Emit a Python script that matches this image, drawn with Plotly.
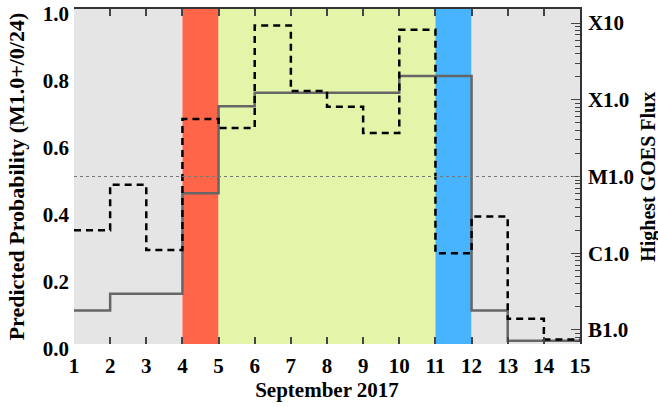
import plotly.graph_objects as go

# ---- data ----
day_edges = list(range(1, 16))                      # 1 .. 15
prob = [0.10, 0.15, 0.15, 0.45, 0.71, 0.75, 0.75, 0.75, 0.75, 0.80, 0.80, 0.10, 0.01, 0.01]
flux = [2.0e-6, 7.8e-6, 1.1e-6, 5.6e-5, 4.3e-5, 9.3e-4, 1.3e-4, 8.1e-5, 3.7e-5, 8.2e-4,
        1.0e-6, 3.0e-6, 1.4e-7, 0.75e-7]
region_start = [1, 4, 5, 11, 12]
region_end = [4, 5, 11, 12, 15]
region_color = ["#e5e5e5", "#ff6548", "#e3f5a9", "#48b4ff", "#e5e5e5"]
threshold = 0.5
prob_ticks = [0, 0.2, 0.4, 0.6, 0.8, 1.0]
prob_labels = ["0.0", "0.2", "0.4", "0.6", "0.8", "1.0"]
flux_ticks = [1e-7, 1e-6, 1e-5, 1e-4, 1e-3]
flux_labels = ["B1.0", "C1.0", "M1.0", "X1.0", "X10"]
x_ticks = list(range(1, 16))

minor_vals = [m * d for d in [1e-8, 1e-7, 1e-6, 1e-5, 1e-4, 1e-3] for m in range(2, 10)]

FONT = "Liberation Serif"
TF = dict(family=FONT, size=21, color="black", weight="bold")
yr2 = [-7.183, -2.817]

fig = go.Figure()

for s, e, c in zip(region_start, region_end, region_color):
    fig.add_vrect(x0=s, x1=e, fillcolor=c, line_width=0, layer="below", opacity=1)

fig.add_hline(y=threshold, line=dict(color="#777777", width=1, dash="dot"), layer="above")

fig.add_trace(go.Scatter(x=day_edges, y=prob + [prob[-1]], mode="lines",
                         line=dict(shape="hv", color="#666666", width=2.5),
                         showlegend=False, hoverinfo="skip"))
fig.add_trace(go.Scatter(x=day_edges, y=flux + [flux[-1]], mode="lines", yaxis="y2",
                         line=dict(shape="hv", color="black", width=2.5, dash="7px,5px"),
                         showlegend=False, hoverinfo="skip"))
# helper traces for minor-tick axis and top axis
fig.add_trace(go.Scatter(x=[day_edges[0]], y=[flux[0]], yaxis="y3", mode="markers",
                         marker=dict(opacity=0), showlegend=False, hoverinfo="skip"))
fig.add_trace(go.Scatter(x=[day_edges[0]], y=[prob[0]], xaxis="x2", mode="markers",
                         marker=dict(opacity=0), showlegend=False, hoverinfo="skip"))

fig.add_annotation(text="<b>Highest GOES Flux</b>", xref="paper", yref="paper", x=1.135, y=0.5,
                   xanchor="center", yanchor="middle", textangle=-90, showarrow=False,
                   font=dict(family=FONT, size=20, color="black"))

fig.update_layout(
    width=658, height=407,
    margin=dict(l=74, r=78, t=9, b=63, autoexpand=False),
    paper_bgcolor="white", plot_bgcolor="white",
    font=dict(family=FONT, size=18, color="black"),
    xaxis=dict(range=[1, 15], tickvals=x_ticks, ticks="inside", ticklen=7, tickwidth=1.5,
               tickcolor="#444444", showgrid=False, zeroline=False, showline=False,
               tickfont=TF, ticklabelstandoff=7, automargin=False,
               title=dict(text="<b>September 2017</b>", font=dict(family=FONT, size=21), standoff=4)),
    xaxis2=dict(range=[1, 15], overlaying="x", side="top", tickvals=x_ticks, ticks="inside",
                ticklen=7, tickwidth=1.5, tickcolor="#444444", showticklabels=False, automargin=False,
                showgrid=False, zeroline=False, showline=True, linecolor="#333333", linewidth=1.5),
    yaxis=dict(range=[0, 1], tickvals=prob_ticks, ticktext=prob_labels, ticklabeloverflow="allow",
               ticks="", showgrid=False, zeroline=False, showline=False, automargin=False,
               tickfont=TF, ticklabelstandoff=4, ticklabelshift=5,
               title=dict(text="<b>Predicted Probability (M1.0+/0/24)</b>", font=dict(family=FONT, size=22), standoff=12)),
    yaxis2=dict(type="log", range=yr2, overlaying="y", side="right", tickvals=flux_ticks,
                ticktext=flux_labels, ticks="inside", ticklen=9, tickwidth=1.2, tickcolor="#444444",
                showgrid=False, zeroline=False, showline=True, linecolor="#333333", linewidth=1.5,
                tickfont=TF, ticklabeloverflow="allow", automargin=False, ticklabelstandoff=2),
    yaxis3=dict(type="log", range=yr2, overlaying="y", side="right", tickvals=minor_vals, automargin=False,
                ticks="inside", ticklen=5, tickwidth=1, tickcolor="#444444", showticklabels=False,
                showgrid=False, zeroline=False, showline=False),
)

fig.write_html("out.html")
